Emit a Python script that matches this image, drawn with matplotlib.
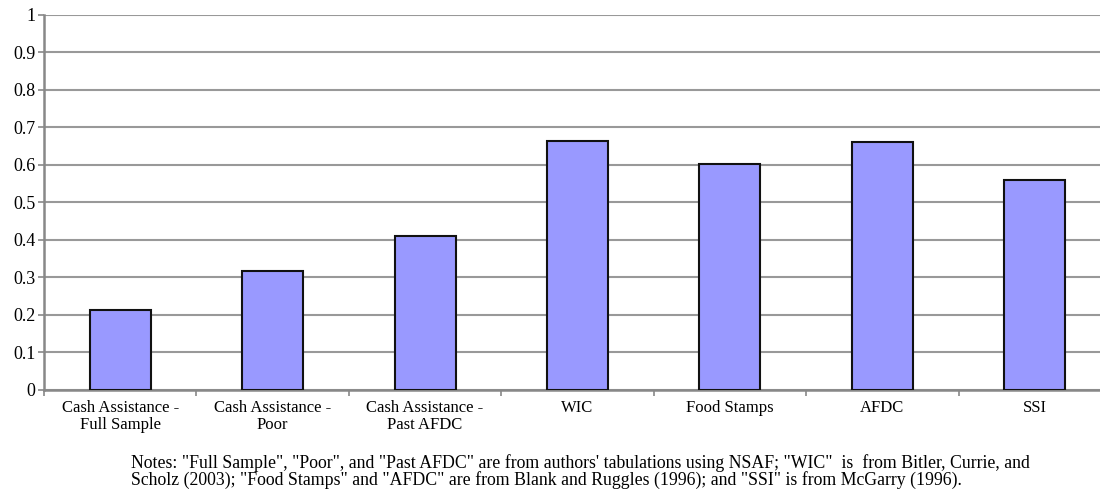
import matplotlib.pyplot as plt
import numpy as np

plt.rcParams['font.family'] = ['Liberation Serif', 'DejaVu Serif']

categories = ['Cash Assistance -\nFull Sample', 'Cash Assistance -\nPoor',
              'Cash Assistance -\nPast AFDC', 'WIC', 'Food Stamps', 'AFDC', 'SSI']
values = [0.213, 0.318, 0.41, 0.665, 0.602, 0.66, 0.56]
yticks = [0, 0.1, 0.2, 0.3, 0.4, 0.5, 0.6, 0.7, 0.8, 0.9, 1]
ytick_labels = ['0', '0.1', '0.2', '0.3', '0.4', '0.5', '0.6', '0.7', '0.8', '0.9', '1']

notes = ('Notes: "Full Sample", "Poor", and "Past AFDC" are from authors\' tabulations using NSAF; '
         '"WIC"  is  from Bitler, Currie, and\n'
         'Scholz (2003); "Food Stamps" and "AFDC" are from Blank and Ruggles (1996); '
         'and "SSI" is from McGarry (1996).')

fig = plt.figure(figsize=(11, 4.98), dpi=100)
ax = fig.add_axes([0.04, 0.217, 0.97, 0.753])

x = np.arange(len(categories))
ax.bar(x, values, width=0.4, color='#9999ff', edgecolor='#111111', linewidth=1.5, zorder=3)

ax.set_xlim(-0.5, len(categories) - 0.5)
ax.set_ylim(0, 1)
ax.set_yticks(yticks)
ax.set_yticklabels(ytick_labels, fontsize=13)
ax.yaxis.grid(True, color='#999999', linewidth=1.5, zorder=0)

ax.set_xticks(x)
ax.set_xticklabels(categories, fontsize=12, linespacing=1.1)
ax.tick_params(axis='x', length=0, pad=7)
ax.set_xticks(np.arange(len(categories) + 1) - 0.5, minor=True)
ax.tick_params(axis='x', which='minor', length=4, color='#888888', width=1.2)
ax.tick_params(axis='y', length=4, color='#888888', width=1.2, pad=2)

for s in ['top', 'right']:
    ax.spines[s].set_visible(False)
for s in ['left', 'bottom']:
    ax.spines[s].set_color('#888888')
    ax.spines[s].set_linewidth(1.8)

fig.text(0.119, 0.018, notes, fontsize=12.8, ha='left', va='bottom', linespacing=0.95)

fig.savefig('out.png', dpi=100)
